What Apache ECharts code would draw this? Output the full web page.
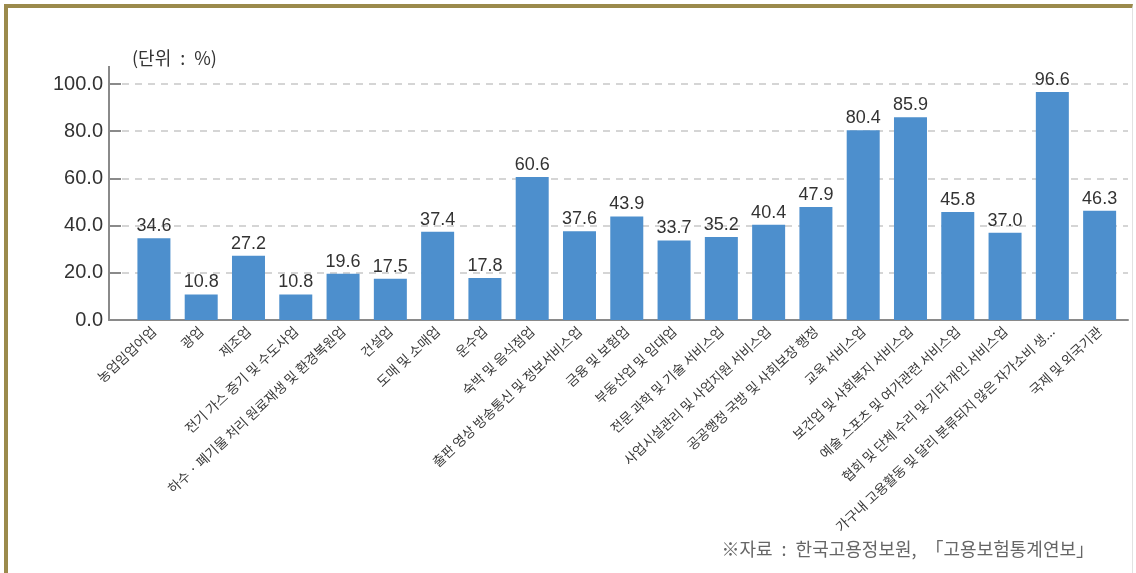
<!DOCTYPE html>
<html>
<head>
<meta charset="utf-8">
<script src="https://cdn.jsdelivr.net/npm/echarts@6/dist/echarts.min.js"></script>
<style>
  html, body { margin: 0; padding: 0; background: #fff; }
  #wrap { position: relative; width: 1136px; height: 573px; overflow: hidden; }
  #chart { position: absolute; left: 0; top: 0; width: 1136px; height: 573px; }
  #frame {
    position: absolute; left: 4px; top: 4px; right: 3px; bottom: -10px;
    border-top: 4px solid #9b8a4c; border-left: 4px solid #9b8a4c;
    border-right: 1px solid #e2e2e2; pointer-events: none;
  }
</style>
</head>
<body>
<div id="wrap">
  <div id="chart"></div>
  <div id="frame"></div>
</div>
<script>
// Industries (x axis) and their rates in percent
const categories = [
  '농업임업어업',
  '광업',
  '제조업',
  '전기 가스 증기 및 수도사업',
  '하수 · 폐기물 처리 원료재생 및 환경복원업',
  '건설업',
  '도매 및 소매업',
  '운수업',
  '숙박 및 음식점업',
  '출판 영상 방송통신 및 정보서비스업',
  '금융 및 보험업',
  '부동산업 및 임대업',
  '전문 과학 및 기술 서비스업',
  '사업시설관리 및 사업지원 서비스업',
  '공공행정 국방 및 사회보장 행정',
  '교육 서비스업',
  '보건업 및 사회복지 서비스업',
  '예술 스포츠 및 여가관련 서비스업',
  '협회 및 단체 수리 및 기타 개인 서비스업',
  '가구내 고용활동 및 달리 분류되지 않은 자가소비 생...',
  '국제 및 외국기관'
];
const rates = [34.6, 10.8, 27.2, 10.8, 19.6, 17.5, 37.4, 17.8, 60.6, 37.6, 43.9,
               33.7, 35.2, 40.4, 47.9, 80.4, 85.9, 45.8, 37.0, 96.6, 46.3];

// Value axis ticks
const yMin = 0;
const yMax = 100;
const yStep = 20;

// en spaces keep the colon well separated, as in the printed caption style
const unitText = '(단위\u2002:\u2002%)';
const sourceText = '※자료\u2002:\u2002한국고용정보원,\u2002「고용보험통계연보」';

const numFont = "'Liberation Sans', Arial, 'Noto Sans CJK KR', sans-serif";
const korFont = "'Noto Sans CJK KR', 'Noto Sans', sans-serif";

const chart = echarts.init(document.getElementById('chart'), null, { renderer: 'canvas' });

chart.setOption({
  animation: false,
  backgroundColor: '#ffffff',
  title: [
    {
      text: unitText, left: 127, top: 44,
      textStyle: { fontFamily: korFont, fontSize: 18, fontWeight: 'normal', color: '#333' }
    },
    {
      text: sourceText, right: 37, top: 535,
      textStyle: { fontFamily: korFont, fontSize: 18, fontWeight: 'normal', color: '#666' }
    }
  ],
  grid: { left: 109, right: 8, top: 84, bottom: 253, containLabel: false },
  xAxis: {
    type: 'value',
    min: -0.95,
    max: 20.6,
    splitLine: { show: false },
    axisTick: { show: false },
    axisLine: { show: true, onZero: false, lineStyle: { color: '#8a8a8a', width: 2 } },
    axisLabel: {
      customValues: categories.map((c, i) => i),
      rotate: 43,
      margin: 9,
      fontFamily: korFont,
      fontSize: 13.5,
      color: '#3a3a3a',
      formatter: v => categories[Math.round(v)] || ''
    }
  },
  yAxis: {
    type: 'value',
    min: yMin,
    max: yMax,
    interval: yStep,
    axisLine: {
      show: true,
      onZero: false,
      symbol: ['none', 'rect'],
      symbolSize: [2, 36],
      lineStyle: { color: '#8a8a8a', width: 2 }
    },
    axisTick: { show: true, inside: true, length: 12, lineStyle: { color: '#8a8a8a', width: 2 } },
    axisLabel: {
      margin: 6,
      fontFamily: numFont,
      fontSize: 20,
      color: '#333',
      formatter: v => v.toFixed(1)
    },
    splitLine: {
      show: true,
      lineStyle: { color: '#c8c8c8', width: 1.5, type: [7, 6] }
    }
  },
  series: [{
    type: 'bar',
    barWidth: 33,
    data: rates.map((v, i) => [i, v]),
    itemStyle: { color: '#4d8fcd' },
    label: {
      show: true,
      position: 'top',
      distance: 3,
      fontFamily: numFont,
      fontSize: 18,
      color: '#333',
      formatter: p => p.value[1].toFixed(1)
    }
  }]
});
</script>
</body>
</html>
